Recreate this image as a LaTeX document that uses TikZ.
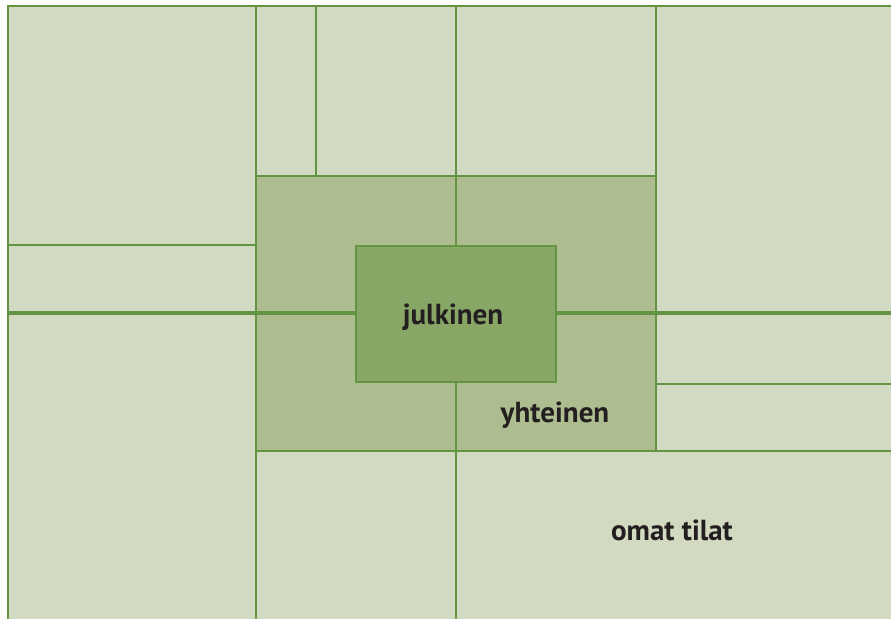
\documentclass[tikz,border=0pt]{standalone}
\usepackage{fontspec}
\setmainfont{PT Sans}
\definecolor{vaalea}{HTML}{D3DAC2}
\definecolor{keski}{HTML}{ADBD8F}
\definecolor{tumma}{HTML}{88A766}
\definecolor{viiva}{HTML}{629444}
\definecolor{teksti}{HTML}{231F20}
\begin{document}
\begin{tikzpicture}[x=1pt,y=-1pt,
    seina/.style={draw=viiva, line width=2.6pt},
    paaseina/.style={draw=viiva, line width=3.6pt},
    nimi/.style={text=teksti, font=\bfseries\fontsize{29}{34}\selectfont}]
        \useasboundingbox (0,0) rectangle (891,619);

        % Pohjat
        \fill[vaalea] (8,6) rectangle (891,619);
        \fill[keski] (256,176) rectangle (656,451);

        % Seinät
        \draw[seina] (8,619) -- (8,6) -- (891,6);
        \draw[seina] (256,6) -- (256,619);
        \draw[seina] (316,6) -- (316,176);
        \draw[seina] (456,6) -- (456,246);
        \draw[seina] (456,382) -- (456,619);
        \draw[seina] (656,6) -- (656,451);
        \draw[seina] (256,176) -- (656,176);
        \draw[seina] (8,245) -- (256,245);
        \draw[seina] (656,384) -- (891,384);
        \draw[seina] (256,451) -- (891,451);
        \draw[paaseina] (8,313) -- (356,313);
        \draw[paaseina] (556,313) -- (891,313);

        % Keskusta
        \filldraw[tumma, seina] (356,246) rectangle (556,382);

        % Nimet
        \node[nimi] (julkinen) at (453,317) {julkinen};
        \node[nimi] (yhteinen) at (555,415) {yhteinen};
        \node[nimi] (omat) at (672,530) {omat tilat};
    \end{tikzpicture}
\end{document}
